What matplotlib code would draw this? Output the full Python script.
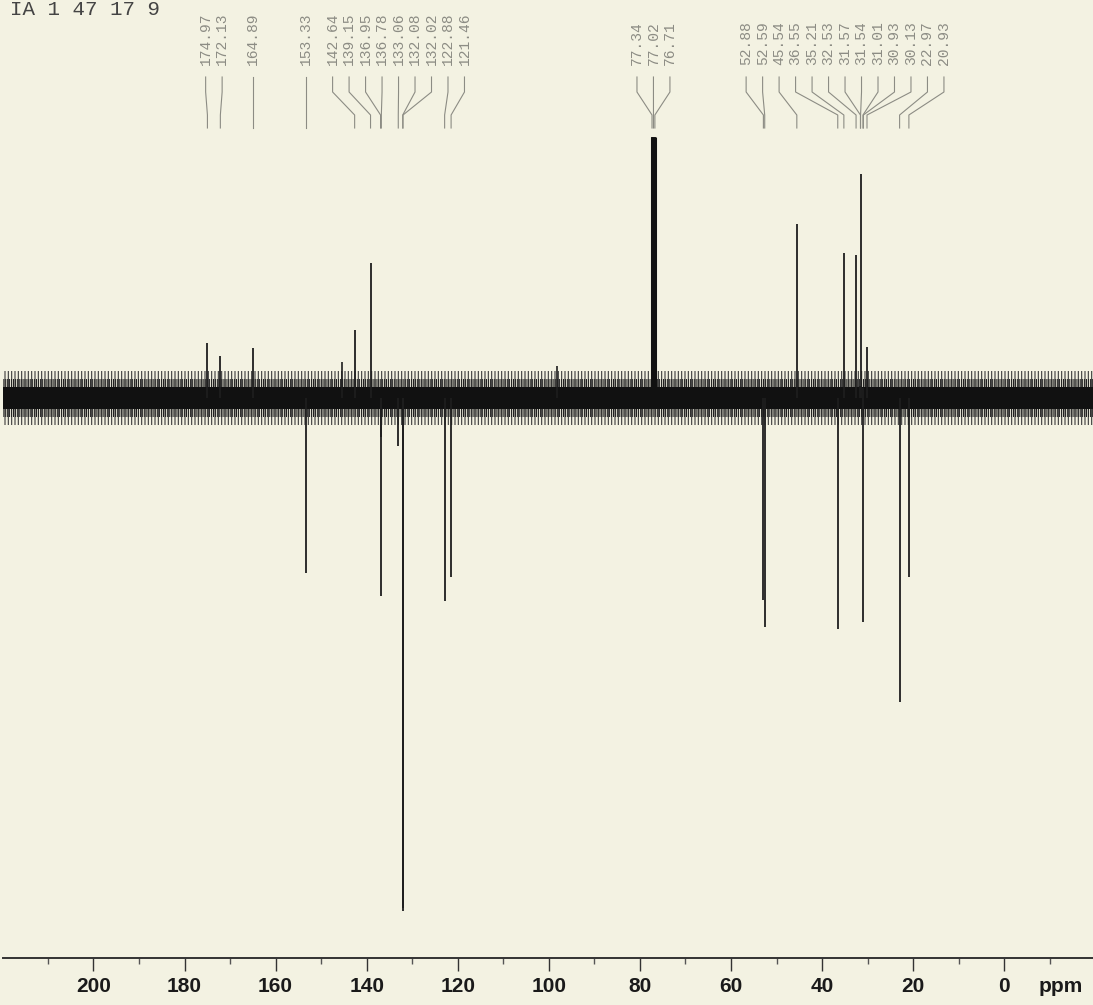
import matplotlib
matplotlib.use('Agg')
import matplotlib.pyplot as plt
import numpy as np

# peak list (ppm) and heights (baseline = 0)
label_ppm = [174.97, 172.13, 164.89, 153.33, 142.64, 139.15, 136.95, 136.78,
             133.06, 132.08, 132.02, 122.88, 121.46, 77.34, 77.02, 76.71,
             52.88, 52.59, 45.54, 36.55, 35.21, 32.53, 31.57, 31.54, 31.01,
             30.93, 30.13, 22.97, 20.93]
peak_height = [55, 42, 50, -175, 68, 135, -198, -39,
               -48, -513, -510, -203, -179, 261, 261, 261,
               -202, -229, 174, -231, 145, 143, 12, 224, 10,
               -224, 51, -304, -179]

# small unlabeled spikes
extra_ppm = [145.5, 98.1]
extra_height = [36, 32]

spec_range = [219.8, -19.5]
noise_core = 11
noise_spike = 27

major_ticks = [200, 180, 160, 140, 120, 100, 80, 60, 40, 20, 0]
minor_ticks = [210, 190, 170, 150, 130, 110, 90, 70, 50, 30, 10, -10]

header = 'IA 1 47 17 9'
paper = '#f3f2e2'


def spread(vals, gap):
    # 把挤在一起的标签均匀摊开
    groups = [[v] for v in vals]
    merged = True
    while merged:
        merged = False
        for i in range(len(groups) - 1):
            a, b = groups[i], groups[i + 1]
            a_low = np.mean(a) - gap * (len(a) - 1) / 2
            b_high = np.mean(b) + gap * (len(b) - 1) / 2
            if a_low - b_high < gap:
                groups[i] = a + b
                del groups[i + 1]
                merged = True
                break
    out = []
    for g in groups:
        c = np.mean(g)
        for k in range(len(g)):
            out.append(c + gap * ((len(g) - 1) / 2 - k))
    return out


plt.rcParams['hatch.linewidth'] = 0.8
fig = plt.figure(figsize=(10.93, 10.05), dpi=100)
fig.patch.set_facecolor(paper)
ax = fig.add_axes([0.003, 47 / 1005, 0.997, 958 / 1005])
ax.set_facecolor(paper)
ax.set_xlim(spec_range[0], spec_range[1])
ax.set_ylim(-560, 398)

# baseline noise
ax.fill_between(spec_range, [-noise_spike] * 2, [noise_spike] * 2,
                facecolor='none', edgecolor='#3c3c3c', hatch='|||||', linewidth=0)
ax.fill_between(spec_range, [-noise_spike + 8] * 2, [noise_spike - 8] * 2,
                facecolor='none', edgecolor='#222222', hatch='||||||||', linewidth=0)
ax.fill_between(spec_range, [-noise_core] * 2, [noise_core] * 2,
                color='#111111', linewidth=0)

# peaks
ax.vlines(label_ppm, 0, peak_height, color='#1e1e1e', linewidth=1.3)
ax.vlines(label_ppm[13:16], 0, peak_height[13:16], color='#111111', linewidth=2.2)
ax.vlines(extra_ppm, 0, extra_height, color='#1e1e1e', linewidth=1.2)

# peak labels with connector lines
lab_x = spread(label_ppm, 3.62)
for p, lx in zip(label_ppm, lab_x):
    ax.plot([lx, lx, p, p], [321, 306, 283, 270], color='#8c8c84', linewidth=0.8)
    ax.text(lx, 333, '%.2f' % p, rotation=90, ha='center', va='bottom',
            family='Liberation Mono', fontsize=10.5, color='#8c8c84')

# axis
for s in ['top', 'left', 'right']:
    ax.spines[s].set_visible(False)
ax.spines['bottom'].set_color('#333333')
ax.spines['bottom'].set_linewidth(1.4)
ax.set_yticks([])
ax.set_xticks(major_ticks)
ax.set_xticks(minor_ticks, minor=True)
ax.set_xticklabels([str(t) for t in major_ticks])
ax.tick_params(axis='x', which='major', length=9, width=1, color='#333333', pad=5,
               labelsize=15, labelcolor='#1a1a1a')
ax.tick_params(axis='x', which='minor', length=4, width=1, color='#555555')
for lab in ax.get_xticklabels():
    lab.set_family(['Liberation Sans Narrow', 'Liberation Sans'])
    lab.set_fontweight('bold')
ax.text(-12.5, -560 - 28, 'ppm', ha='center', va='center', fontsize=15,
        fontweight='bold', color='#1a1a1a', family=['Liberation Sans Narrow', 'Liberation Sans'])

fig.text(10 / 1093, 1 - 15 / 1005, header, ha='left', va='baseline',
         family='Liberation Mono', fontsize=15, color='#444444')

fig.savefig('out.png', dpi=100, facecolor=paper)
